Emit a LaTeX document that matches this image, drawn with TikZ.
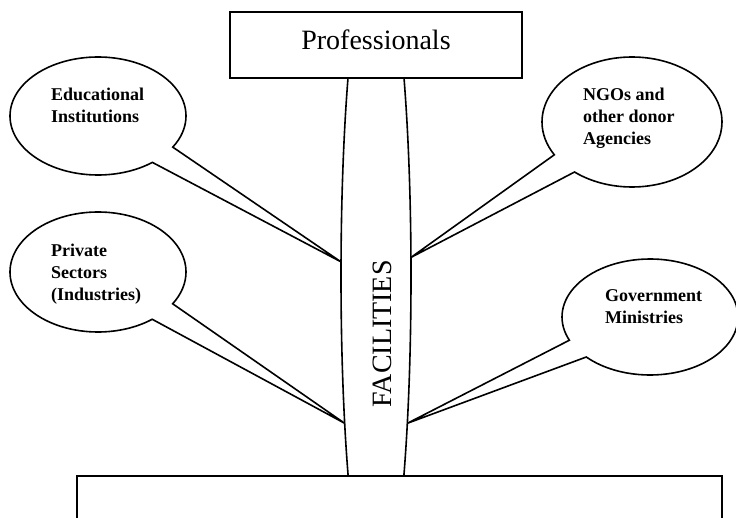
\documentclass[tikz,border=0pt]{standalone}
\usepackage{fontspec}
\setmainfont{Liberation Serif}
\usetikzlibrary{shapes.geometric,shapes.callouts}
\tikzset{
  bubble/.style={ellipse callout, draw, fill=white, line width=1.6pt, inner sep=0pt, outer sep=0pt, callout pointer arc=20},
  lbl/.style={align=left, anchor=west, inner sep=0pt, font=\fontsize{18}{22}\selectfont\bfseries},
  panel/.style={rectangle, draw, fill=white, line width=1.6pt, inner sep=0pt}
}
\begin{document}
\begin{tikzpicture}[x=1pt,y=-1pt]
\clip (0,0) rectangle (736,518);

% Tall FACILITIES ellipse (only the part between the boxes shows)
\begin{scope}
\clip (0,78) rectangle (736,476);
\node[ellipse, draw, line width=1.6pt, inner sep=0pt, outer sep=0pt, minimum width=70pt, minimum height=660pt] (fac) at (376,276) {};
\end{scope}
\node[rotate=90, inner sep=0pt, font=\fontsize{28}{28}\selectfont] (faclbl) at (382,334) {FACILITIES};

% Top and bottom boxes
\node[panel, minimum width=292pt, minimum height=66pt, text height=19pt, text depth=9pt, font=\fontsize{28}{28}\selectfont] (prof) at (376,45) {Professionals};
\node[panel, minimum width=645pt, minimum height=100pt] (base) at (399.5,526) {};

% Speech bubbles pointing at the ellipse
\node[bubble, minimum width=176pt, minimum height=118pt, callout absolute pointer={(fac.158)}] (edu) at (98,116) {};
\node[bubble, minimum width=176pt, minimum height=120pt, callout absolute pointer={(fac.258)}] (priv) at (98,272) {};
\node[bubble, minimum width=180pt, minimum height=130pt, callout absolute pointer={(fac.28)}] (ngo) at (632,122) {};
\node[bubble, minimum width=176pt, minimum height=116pt, callout absolute pointer={(fac.282)}] (gov) at (650,317) {};

% Bubble texts
\node[lbl] (edulbl) at (51,105) {Educational\\Institutions};
\node[lbl] (privlbl) at (51,274) {Private\\Sectors\\(Industries)};
\node[lbl] (ngolbl) at (583,118) {NGOs and\\other donor\\Agencies};
\node[lbl] (govlbl) at (605,307) {Government\\Ministries};

\end{tikzpicture}
\end{document}
